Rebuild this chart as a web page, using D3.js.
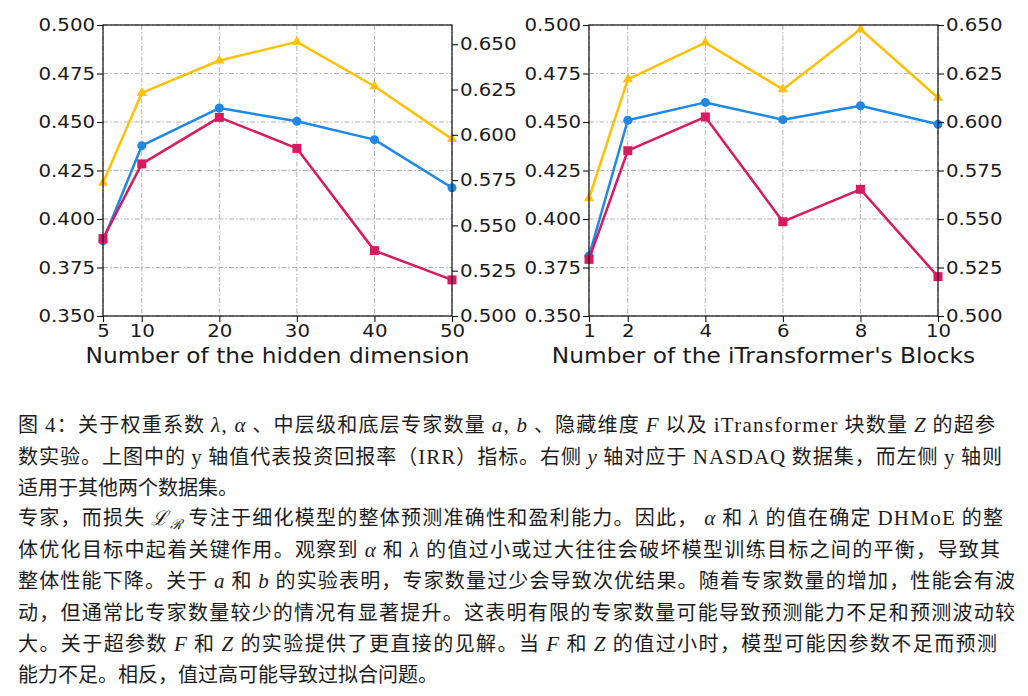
<!DOCTYPE html>
<html>
<head>
<meta charset="utf-8">
<script src="https://cdn.jsdelivr.net/npm/d3@7"></script>
<style>
  html, body { margin: 0; padding: 0; background: #fff; }
  svg { display: block; }
</style>
</head>
<body>
<svg id="fig" width="1028" height="696"></svg>
<script>
// ---------------- data ----------------
const hiddenDims   = [5, 10, 20, 30, 40, 50];
const blockCounts  = [1, 2, 4, 6, 8, 10];

const leftTickVals  = [0.350, 0.375, 0.400, 0.425, 0.450, 0.475, 0.500];
const rightTickVals = [0.500, 0.525, 0.550, 0.575, 0.600, 0.625, 0.650];

// panel 1: hidden dimension
const hidBlue   = [0.3887, 0.4378, 0.4572, 0.4504, 0.4409, 0.4161];
const hidRed    = [0.3899, 0.4284, 0.4524, 0.4364, 0.3837, 0.3686];
const hidYellow = [0.5735, 0.6231, 0.6410, 0.6513, 0.6268, 0.5976]; // right axis

// panel 2: iTransformer blocks
const blkBlue   = [0.3809, 0.4509, 0.4601, 0.4512, 0.4584, 0.4488];
const blkRed    = [0.3792, 0.4352, 0.4526, 0.3986, 0.4153, 0.3703];
const blkYellow = [0.5607, 0.6220, 0.6409, 0.6168, 0.6478, 0.6125]; // right axis

const leftDomain   = [0.35, 0.50];
const hidRightDom  = [0.50, 0.6606];
const blkRightDom  = [0.50, 0.65];

const xLabels = ["Number of the hidden dimension", "Number of the iTransformer's Blocks"];

// caption (segments: c = CJK, r = roman serif, i = math italic)
const para1 = [
  [["c","图 "],["r","4"],["c","：关于权重系数 "],["i","λ"],["r",", "],["i","α"],["c"," 、中层级和底层专家数量 "],["i","a"],["r",", "],["i","b"],["c"," 、隐藏维度 "],["i","F"],["c"," 以及 "],["r","iTransformer"],["c"," 块数量 "],["i","Z"],["c"," 的超参"]],
  [["c","数实验。上图中的 "],["r","y"],["c"," 轴值代表投资回报率（"],["r","IRR"],["c","）指标。右侧 "],["i","y"],["c"," 轴对应于 "],["r","NASDAQ"],["c"," 数据集，而左侧 "],["r","y"],["c"," 轴则"]],
  [["c","适用于其他两个数据集。"]]
];
const para2 = [
  [["c","专家，而损失 "],["L","ℒ"],["S","ℛ"],["c"," 专注于细化模型的整体预测准确性和盈利能力。因此， "],["i","α"],["c"," 和 "],["i","λ"],["c"," 的值在确定 "],["r","DHMoE"],["c"," 的整"]],
  [["c","体优化目标中起着关键作用。观察到 "],["i","α"],["c"," 和 "],["i","λ"],["c"," 的值过小或过大往往会破坏模型训练目标之间的平衡，导致其"]],
  [["c","整体性能下降。关于 "],["i","a"],["c"," 和 "],["i","b"],["c"," 的实验表明，专家数量过少会导致次优结果。随着专家数量的增加，性能会有波"]],
  [["c","动，但通常比专家数量较少的情况有显著提升。这表明有限的专家数量可能导致预测能力不足和预测波动较"]],
  [["c","大。关于超参数 "],["i","F"],["c"," 和 "],["i","Z"],["c"," 的实验提供了更直接的见解。当 "],["i","F"],["c"," 和 "],["i","Z"],["c"," 的值过小时，模型可能因参数不足而预测"]],
  [["c","能力不足。相反，值过高可能导致过拟合问题。"]]
];

// ---------------- drawing ----------------
const svg = d3.select("#fig");
const COL_BLUE = "#1E88E5", COL_RED = "#D81B60", COL_YEL = "#FFC107";
const SX = 1.13;              // horizontal stretch of the figure text
const PW = 349, PH = 291, PTOP = 25;

function panel(left, xs, xDom, blue, red, yellow, rDom, label) {
  const g = svg.append("g").attr("transform", `translate(${left},${PTOP})`);
  const x  = d3.scaleLinear().domain(xDom).range([0, PW]);
  const yL = d3.scaleLinear().domain(leftDomain).range([PH, 0]);
  const yR = d3.scaleLinear().domain(rDom).range([PH, 0]);

  // grid
  const grid = g.append("g").attr("stroke", "#a8a8a8").attr("stroke-width", 0.9)
    .attr("stroke-dasharray", "5,2,1.5,2").attr("fill", "none");
  grid.selectAll("line.v").data(xs).join("line").attr("class","v")
    .attr("x1", d => x(d)).attr("x2", d => x(d)).attr("y1", 0).attr("y2", PH);
  grid.selectAll("line.h").data(leftTickVals).join("line").attr("class","h")
    .attr("x1", 0).attr("x2", PW).attr("y1", d => yL(d)).attr("y2", d => yL(d));

  const line = (ys, sc) => d3.line().x((d, i) => x(xs[i])).y(d => sc(d))(ys);

  // blue (circles)
  g.append("path").attr("d", line(blue, yL)).attr("fill","none").attr("stroke",COL_BLUE).attr("stroke-width",2.5).attr("stroke-linejoin","round");
  g.selectAll("circle.b").data(blue).join("circle").attr("class","b")
    .attr("cx",(d,i)=>x(xs[i])).attr("cy",d=>yL(d)).attr("r",4.5).attr("fill",COL_BLUE);

  // red (squares)
  g.append("path").attr("d", line(red, yL)).attr("fill","none").attr("stroke",COL_RED).attr("stroke-width",2.5).attr("stroke-linejoin","round");
  g.selectAll("rect.r").data(red).join("rect").attr("class","r")
    .attr("x",(d,i)=>x(xs[i])-4.5).attr("y",d=>yL(d)-4.5).attr("width",9).attr("height",9).attr("fill",COL_RED);

  // yellow (triangles) on right axis
  g.append("path").attr("d", line(yellow, yR)).attr("fill","none").attr("stroke",COL_YEL).attr("stroke-width",2.5).attr("stroke-linejoin","round");
  const tri = d3.symbol().type(d3.symbolTriangle).size(45);
  g.selectAll("path.y").data(yellow).join("path").attr("class","y")
    .attr("d", tri).attr("fill", COL_YEL)
    .attr("transform",(d,i)=>`translate(${x(xs[i])},${yR(d)})`);

  // spines
  g.append("rect").attr("x",0).attr("y",0).attr("width",PW).attr("height",PH)
    .attr("fill","none").attr("stroke","#111").attr("stroke-width",1.2);

  const styleAxis = sel => {
    sel.select(".domain").remove();
    sel.selectAll(".tick line").attr("stroke","#111").attr("stroke-width",1.1);
    sel.selectAll(".tick text").attr("fill","#1a1a1a")
      .style("font-family","'DejaVu Sans', sans-serif").style("font-size","17.5px")
      .attr("transform",`scale(${SX},1)`);
  };

  g.append("g").attr("transform",`translate(0,${PH})`)
    .call(d3.axisBottom(x).tickValues(xs).tickFormat(d3.format("d")).tickSize(6).tickPadding(3))
    .call(styleAxis);
  g.append("g")
    .call(d3.axisLeft(yL).tickValues(leftTickVals).tickFormat(d3.format(".3f")).tickSize(6).tickPadding(1))
    .call(styleAxis);
  g.append("g").attr("transform",`translate(${PW},0)`)
    .call(d3.axisRight(yR).tickValues(rightTickVals).tickFormat(d3.format(".3f")).tickSize(6).tickPadding(1))
    .call(styleAxis);

  g.append("text").attr("transform",`translate(${PW/2},${338}) scale(${SX},1)`)
    .attr("text-anchor","middle").attr("fill","#1a1a1a")
    .style("font-family","'DejaVu Sans', sans-serif").style("font-size","20.6px")
    .text(label);
}

panel(103, hiddenDims,  [5, 50], hidBlue, hidRed, hidYellow, hidRightDom, xLabels[0]);
panel(589, blockCounts, [1, 10], blkBlue, blkRed, blkYellow, blkRightDom, xLabels[1]);

// ---------------- caption ----------------
const FONT = {
  c: { family: "'Noto Sans CJK SC', sans-serif", style: "normal", size: 20 },
  r: { family: "'Liberation Serif', 'DejaVu Serif', serif", style: "normal", size: 21 },
  i: { family: "'Liberation Serif', 'DejaVu Serif', serif", style: "italic", size: 21 },
  L: { family: "'DejaVu Serif', serif", style: "italic", size: 20 },
  S: { family: "'DejaVu Serif', serif", style: "italic", size: 14 }
};
function writeLine(segs, y, len) {
  const t = svg.append("text").attr("x", 18).attr("y", y).attr("fill", "#1c1c1c")
    .attr("xml:space","preserve").style("white-space","pre");
  if (len) t.attr("textLength", len).attr("lengthAdjust", "spacing");
  segs.forEach(([k, s]) => {
    const f = FONT[k];
    const ts = t.append("tspan").style("font-family", f.family).style("font-style", f.style)
      .style("font-size", f.size + "px").text(s);
    if (k === "S") ts.attr("dy", 4);
    if (k === "c" && s.startsWith(" ") && segs.some(q => q[0]==="S")) {}
  });
  // reset baseline after subscript
  t.selectAll("tspan").each(function(d, i, n) {
    const prev = n[i-1];
    if (prev && d3.select(prev).attr("dy") === "4") d3.select(this).attr("dy", -4);
  });
}
const p1Y = [431.5, 463.5, 494.5], p1L = [977, 984, null];
para1.forEach((l, i) => writeLine(l, p1Y[i], p1L[i]));
const p2Y = [524.5, 556.5, 587.5, 619.5, 650.5, 681.5], p2L = [985, 982, 997, 997, 979, null];
para2.forEach((l, i) => writeLine(l, p2Y[i], p2L[i]));
</script>
</body>
</html>
